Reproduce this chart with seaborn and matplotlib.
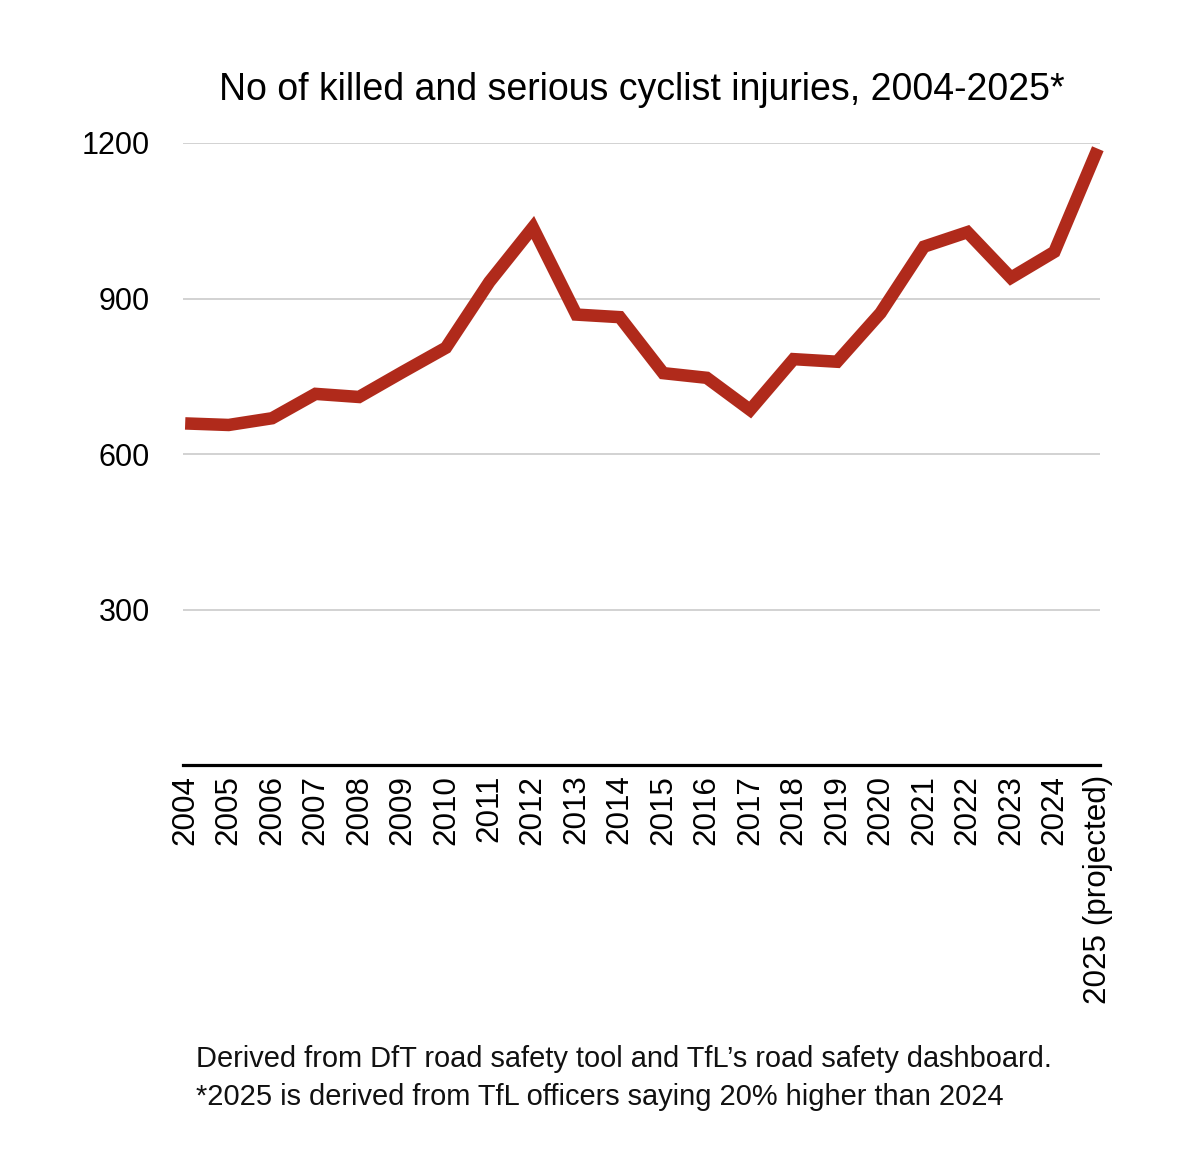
import matplotlib
matplotlib.use("Agg")
import matplotlib.pyplot as plt
import pandas as pd
import seaborn as sns

# KSI cyclist casualties
years = list(range(2004, 2026))
ksi = [659, 656, 669, 716, 710, 758, 805, 932, 1037, 869,
       864, 756, 747, 685, 783, 778, 872, 1000, 1028, 940,
       990, 1189]
year_labels = [str(y) for y in years[:-1]] + ["2025 (projected)"]
y_ticks = [300, 600, 900, 1200]

title = "No of killed and serious cyclist injuries, 2004-2025*"
note_1 = "Derived from DfT road safety tool and TfL\u2019s road safety dashboard."
note_2 = "*2025 is derived from TfL officers saying 20% higher than 2024"

line_color = "#b02a1b"

df = pd.DataFrame({"year": years, "ksi": ksi})

sns.set_theme(style="white")
plt.rcParams["font.family"] = ["Liberation Sans", "DejaVu Sans"]

W, H = 1200, 1164
fig = plt.figure(figsize=(W / 100, H / 100), dpi=100)
ax = fig.add_axes([183 / W, 1 - 765 / H, (1100 - 183) / W, (765 - 143) / H])

sns.lineplot(data=df, x="year", y="ksi", ax=ax, color=line_color,
             linewidth=9, solid_joinstyle="miter", solid_capstyle="butt")
for ln in ax.get_lines():
    ln.set_clip_on(False)

ax.set_xlim(years[0] - 0.05, years[-1] + 0.05)
ax.set_ylim(0, 1200)
ax.set_yticks(y_ticks)
ax.set_yticklabels([str(v) for v in y_ticks])
ax.set_xticks(years)
ax.set_xticklabels(year_labels, rotation=90, va="top", ha="center")
ax.tick_params(axis="x", length=0, pad=7, labelsize=22.6, colors="black")
ax.tick_params(axis="y", length=0, pad=24, labelsize=22, colors="black")
ax.set_xlabel("")
ax.set_ylabel("")

ax.yaxis.grid(True, color="#c6c6c6", linewidth=1.1)
ax.xaxis.grid(False)
ax.set_axisbelow(True)
for side in ["top", "left", "right"]:
    ax.spines[side].set_visible(False)
ax.spines["bottom"].set_color("black")
ax.spines["bottom"].set_linewidth(2.3)
ax.spines["bottom"].set_zorder(3)

ax.set_title(title, fontsize=27, pad=31, color="black")

fig.text(196 / W, 1 - 1067 / H, note_1, fontsize=20.9, va="baseline", ha="left", color="#111111")
fig.text(196 / W, 1 - 1105 / H, note_2, fontsize=20.9, va="baseline", ha="left", color="#111111")

fig.savefig("out.png", dpi=100, facecolor="white")
